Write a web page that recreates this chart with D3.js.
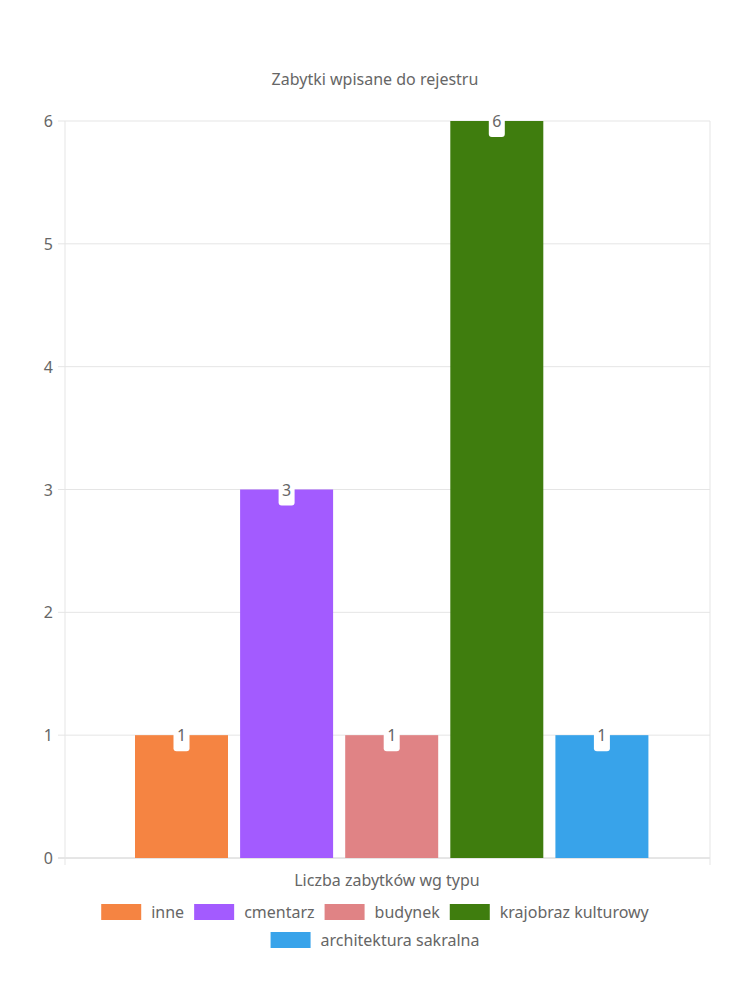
<!DOCTYPE html><html><head><meta charset="utf-8"><script src="https://cdn.jsdelivr.net/npm/d3@7"></script>
<style>body{margin:0;background:#fff}text{font-family:"Noto Sans",sans-serif;fill:#666}</style></head><body>
<svg id="c" width="750" height="1000"></svg>
<script>
const series=["inne","cmentarz","budynek","krajobraz kulturowy","architektura sakralna"];
const values=[1,3,1,6,1];
const colors=["#f58442","#a35bff","#e08385","#3f7d0e","#38a3ea"];
const yTicks=[0,1,2,3,4,5,6];
const svg=d3.select("#c");
const L=65,R=710,T=121,B=858;
const y=d3.scaleLinear().domain([0,6]).range([B,T]);
const x=d3.scaleBand().domain(series).range([135,650]).paddingInner(0.1).paddingOuter(0).align(0);
// grid
svg.append("g").selectAll("line").data(yTicks).join("line").attr("x1",L-7).attr("x2",R).attr("y1",d=>y(d)).attr("y2",d=>y(d)).attr("stroke",d=>d===0?"#ccc":"#e5e5e5");
svg.append("line").attr("x1",L).attr("x2",L).attr("y1",T).attr("y2",B+7).attr("stroke","#e5e5e5");
svg.append("line").attr("x1",R).attr("x2",R).attr("y1",T).attr("y2",B+7).attr("stroke","#e5e5e5");
svg.append("g").selectAll("text").data(yTicks).join("text").attr("x",L-12).attr("y",d=>y(d)+6).attr("text-anchor","end").attr("font-size",16).text(d=>d);
svg.append("text").attr("x",375).attr("y",85).attr("text-anchor","middle").attr("font-size",16).text("Zabytki wpisane do rejestru");
svg.append("text").attr("x",387).attr("y",886).attr("text-anchor","middle").attr("font-size",16).text("Liczba zabytków wg typu");
const bw=93;
svg.append("g").selectAll("rect").data(series).join("rect").attr("x",d=>x(d)).attr("width",bw).attr("y",(d,i)=>y(values[i])).attr("height",(d,i)=>B-y(values[i])).attr("fill",(d,i)=>colors[i]);
const lab=svg.append("g").selectAll("g").data(series).join("g").attr("transform",(d,i)=>`translate(${x(d)+bw/2},${y(values[i])})`);
lab.append("rect").attr("x",-8).attr("y",-8).attr("width",16).attr("height",24).attr("rx",3).attr("fill","#fff");
lab.append("text").attr("text-anchor","middle").attr("y",6).attr("font-size",16).attr("fill","#555").text((d,i)=>values[i]);
// legend
const rows=[[0,1,2,3],[4]];const rowY=[912,940];
rows.forEach((r,ri)=>{
 const g=svg.append("g");let cx=0;
 r.forEach(i=>{
  g.append("rect").attr("x",cx).attr("y",rowY[ri]-8).attr("width",40).attr("height",16).attr("fill",colors[i]);
  const t=g.append("text").attr("x",cx+50).attr("y",rowY[ri]+6).attr("font-size",16).text(series[i]);
  cx+=50+t.node().getComputedTextLength()+10;
 });
 g.attr("transform",`translate(${375-(cx-10)/2},0)`);
});
</script></body></html>
